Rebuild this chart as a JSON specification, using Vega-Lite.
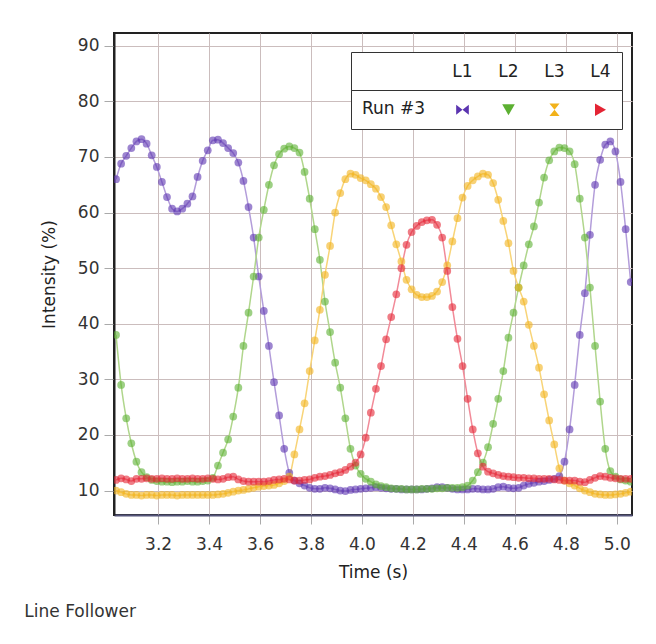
{
"$schema":"https://vega.github.io/schema/vega-lite/v6.json",
"width":518,"height":482,
"padding":{"left":24,"top":33,"right":24,"bottom":20},
"background":"white",
"title":{"text":"Line Follower","orient":"bottom","anchor":"start","frame":"bounds","fontSize":17,"fontWeight":"normal","color":"#333","offset":24,"dx":-16,"font":"DejaVu Sans"},
"config":{"font":"DejaVu Sans","view":{"stroke":"#222","strokeWidth":2},
"axis":{"labelFontSize":17,"titleFontSize":17,"titleFontWeight":"normal","labelColor":"#333","titleColor":"#222","gridColor":"#cbbdbd","gridWidth":1,"tickColor":"#aaa"}},
"data":{"values":[
{"t":3.035,"v":66,"s":"L1"},{"t":3.055,"v":68.8,"s":"L1"},{"t":3.075,"v":70.2,"s":"L1"},{"t":3.095,"v":71.6,"s":"L1"},{"t":3.115,"v":72.8,"s":"L1"},{"t":3.135,"v":73.2,"s":"L1"},{"t":3.155,"v":72.4,"s":"L1"},{"t":3.175,"v":70.3,"s":"L1"},{"t":3.195,"v":68.2,"s":"L1"},{"t":3.215,"v":65.5,"s":"L1"},{"t":3.235,"v":62.8,"s":"L1"},{"t":3.255,"v":60.7,"s":"L1"},{"t":3.275,"v":60.2,"s":"L1"},{"t":3.295,"v":60.7,"s":"L1"},{"t":3.315,"v":61.6,"s":"L1"},{"t":3.335,"v":62.9,"s":"L1"},{"t":3.355,"v":66.4,"s":"L1"},{"t":3.375,"v":69.3,"s":"L1"},{"t":3.395,"v":71.2,"s":"L1"},{"t":3.415,"v":73,"s":"L1"},{"t":3.435,"v":73.1,"s":"L1"},{"t":3.455,"v":72.5,"s":"L1"},{"t":3.475,"v":71.6,"s":"L1"},{"t":3.495,"v":70.7,"s":"L1"},{"t":3.515,"v":69,"s":"L1"},{"t":3.535,"v":65.7,"s":"L1"},{"t":3.555,"v":61,"s":"L1"},{"t":3.575,"v":55.5,"s":"L1"},{"t":3.595,"v":48.5,"s":"L1"},{"t":3.615,"v":42.3,"s":"L1"},{"t":3.635,"v":36,"s":"L1"},{"t":3.655,"v":29.5,"s":"L1"},{"t":3.675,"v":23.5,"s":"L1"},{"t":3.695,"v":17.5,"s":"L1"},{"t":3.715,"v":13.2,"s":"L1"},{"t":3.735,"v":11.8,"s":"L1"},{"t":3.755,"v":11.3,"s":"L1"},{"t":3.775,"v":10.9,"s":"L1"},{"t":3.795,"v":10.5,"s":"L1"},{"t":3.815,"v":10.3,"s":"L1"},{"t":3.835,"v":10.3,"s":"L1"},{"t":3.855,"v":10.5,"s":"L1"},{"t":3.875,"v":10.4,"s":"L1"},{"t":3.895,"v":10.2,"s":"L1"},{"t":3.915,"v":10,"s":"L1"},{"t":3.935,"v":9.9,"s":"L1"},{"t":3.955,"v":10.1,"s":"L1"},{"t":3.975,"v":10.2,"s":"L1"},{"t":3.995,"v":10.3,"s":"L1"},{"t":4.015,"v":10.4,"s":"L1"},{"t":4.035,"v":10.5,"s":"L1"},{"t":4.055,"v":10.6,"s":"L1"},{"t":4.075,"v":10.5,"s":"L1"},{"t":4.095,"v":10.4,"s":"L1"},{"t":4.115,"v":10.3,"s":"L1"},{"t":4.135,"v":10.3,"s":"L1"},{"t":4.155,"v":10.2,"s":"L1"},{"t":4.175,"v":10.2,"s":"L1"},{"t":4.195,"v":10.2,"s":"L1"},{"t":4.215,"v":10.2,"s":"L1"},{"t":4.235,"v":10.2,"s":"L1"},{"t":4.255,"v":10.3,"s":"L1"},{"t":4.275,"v":10.4,"s":"L1"},{"t":4.295,"v":10.6,"s":"L1"},{"t":4.315,"v":10.6,"s":"L1"},{"t":4.335,"v":10.5,"s":"L1"},{"t":4.355,"v":10.3,"s":"L1"},{"t":4.375,"v":10.2,"s":"L1"},{"t":4.395,"v":10.2,"s":"L1"},{"t":4.415,"v":10.2,"s":"L1"},{"t":4.435,"v":10.3,"s":"L1"},{"t":4.455,"v":10.3,"s":"L1"},{"t":4.475,"v":10.2,"s":"L1"},{"t":4.495,"v":10.2,"s":"L1"},{"t":4.515,"v":10.3,"s":"L1"},{"t":4.535,"v":10.6,"s":"L1"},{"t":4.555,"v":10.7,"s":"L1"},{"t":4.575,"v":10.5,"s":"L1"},{"t":4.595,"v":10.4,"s":"L1"},{"t":4.615,"v":10.5,"s":"L1"},{"t":4.635,"v":10.9,"s":"L1"},{"t":4.655,"v":11.2,"s":"L1"},{"t":4.675,"v":11.4,"s":"L1"},{"t":4.695,"v":11.6,"s":"L1"},{"t":4.715,"v":11.7,"s":"L1"},{"t":4.735,"v":11.9,"s":"L1"},{"t":4.755,"v":12.1,"s":"L1"},{"t":4.775,"v":12.6,"s":"L1"},{"t":4.795,"v":15.2,"s":"L1"},{"t":4.815,"v":21,"s":"L1"},{"t":4.835,"v":29,"s":"L1"},{"t":4.855,"v":38,"s":"L1"},{"t":4.875,"v":45.5,"s":"L1"},{"t":4.895,"v":56,"s":"L1"},{"t":4.915,"v":65,"s":"L1"},{"t":4.935,"v":69.5,"s":"L1"},{"t":4.955,"v":72.2,"s":"L1"},{"t":4.975,"v":72.8,"s":"L1"},{"t":4.995,"v":71,"s":"L1"},{"t":5.015,"v":65.5,"s":"L1"},{"t":5.035,"v":57,"s":"L1"},{"t":5.055,"v":47.5,"s":"L1"},
{"t":3.035,"v":38,"s":"L2"},{"t":3.055,"v":29,"s":"L2"},{"t":3.075,"v":23,"s":"L2"},{"t":3.095,"v":18.5,"s":"L2"},{"t":3.115,"v":15.2,"s":"L2"},{"t":3.135,"v":13.3,"s":"L2"},{"t":3.155,"v":12.4,"s":"L2"},{"t":3.175,"v":11.9,"s":"L2"},{"t":3.195,"v":11.7,"s":"L2"},{"t":3.215,"v":11.6,"s":"L2"},{"t":3.235,"v":11.6,"s":"L2"},{"t":3.255,"v":11.5,"s":"L2"},{"t":3.275,"v":11.6,"s":"L2"},{"t":3.295,"v":11.6,"s":"L2"},{"t":3.315,"v":11.7,"s":"L2"},{"t":3.335,"v":11.6,"s":"L2"},{"t":3.355,"v":11.6,"s":"L2"},{"t":3.375,"v":11.7,"s":"L2"},{"t":3.395,"v":11.8,"s":"L2"},{"t":3.415,"v":12.3,"s":"L2"},{"t":3.435,"v":14.5,"s":"L2"},{"t":3.455,"v":16.8,"s":"L2"},{"t":3.475,"v":19.2,"s":"L2"},{"t":3.495,"v":23.3,"s":"L2"},{"t":3.515,"v":28.5,"s":"L2"},{"t":3.535,"v":36,"s":"L2"},{"t":3.555,"v":42,"s":"L2"},{"t":3.575,"v":48.5,"s":"L2"},{"t":3.595,"v":55.5,"s":"L2"},{"t":3.615,"v":60.5,"s":"L2"},{"t":3.635,"v":65,"s":"L2"},{"t":3.655,"v":68.5,"s":"L2"},{"t":3.675,"v":70.5,"s":"L2"},{"t":3.695,"v":71.5,"s":"L2"},{"t":3.715,"v":71.9,"s":"L2"},{"t":3.735,"v":71.6,"s":"L2"},{"t":3.755,"v":70.8,"s":"L2"},{"t":3.775,"v":67.3,"s":"L2"},{"t":3.795,"v":62.5,"s":"L2"},{"t":3.815,"v":57,"s":"L2"},{"t":3.835,"v":51.5,"s":"L2"},{"t":3.855,"v":44,"s":"L2"},{"t":3.875,"v":38.5,"s":"L2"},{"t":3.895,"v":33,"s":"L2"},{"t":3.915,"v":28.5,"s":"L2"},{"t":3.935,"v":23,"s":"L2"},{"t":3.955,"v":17.5,"s":"L2"},{"t":3.975,"v":14.5,"s":"L2"},{"t":3.995,"v":13,"s":"L2"},{"t":4.015,"v":12.1,"s":"L2"},{"t":4.035,"v":11.6,"s":"L2"},{"t":4.055,"v":11.1,"s":"L2"},{"t":4.075,"v":10.8,"s":"L2"},{"t":4.095,"v":10.6,"s":"L2"},{"t":4.115,"v":10.4,"s":"L2"},{"t":4.135,"v":10.3,"s":"L2"},{"t":4.155,"v":10.3,"s":"L2"},{"t":4.175,"v":10.2,"s":"L2"},{"t":4.195,"v":10.2,"s":"L2"},{"t":4.215,"v":10.2,"s":"L2"},{"t":4.235,"v":10.3,"s":"L2"},{"t":4.255,"v":10.3,"s":"L2"},{"t":4.275,"v":10.3,"s":"L2"},{"t":4.295,"v":10.4,"s":"L2"},{"t":4.315,"v":10.4,"s":"L2"},{"t":4.335,"v":10.5,"s":"L2"},{"t":4.355,"v":10.5,"s":"L2"},{"t":4.375,"v":10.5,"s":"L2"},{"t":4.395,"v":10.6,"s":"L2"},{"t":4.415,"v":10.9,"s":"L2"},{"t":4.435,"v":11.8,"s":"L2"},{"t":4.455,"v":13.3,"s":"L2"},{"t":4.475,"v":15,"s":"L2"},{"t":4.495,"v":17.8,"s":"L2"},{"t":4.515,"v":22,"s":"L2"},{"t":4.535,"v":26.5,"s":"L2"},{"t":4.555,"v":31.5,"s":"L2"},{"t":4.575,"v":37.5,"s":"L2"},{"t":4.595,"v":42,"s":"L2"},{"t":4.615,"v":46.5,"s":"L2"},{"t":4.635,"v":50.5,"s":"L2"},{"t":4.655,"v":54.3,"s":"L2"},{"t":4.675,"v":57.5,"s":"L2"},{"t":4.695,"v":61.8,"s":"L2"},{"t":4.715,"v":66.3,"s":"L2"},{"t":4.735,"v":69.4,"s":"L2"},{"t":4.755,"v":71,"s":"L2"},{"t":4.775,"v":71.7,"s":"L2"},{"t":4.795,"v":71.6,"s":"L2"},{"t":4.815,"v":71,"s":"L2"},{"t":4.835,"v":68.7,"s":"L2"},{"t":4.855,"v":62.5,"s":"L2"},{"t":4.875,"v":55.5,"s":"L2"},{"t":4.895,"v":46.5,"s":"L2"},{"t":4.915,"v":36,"s":"L2"},{"t":4.935,"v":26,"s":"L2"},{"t":4.955,"v":17.5,"s":"L2"},{"t":4.975,"v":13.5,"s":"L2"},{"t":4.995,"v":12.5,"s":"L2"},{"t":5.015,"v":12,"s":"L2"},{"t":5.035,"v":11.8,"s":"L2"},{"t":5.055,"v":11.6,"s":"L2"},
{"t":3.035,"v":10,"s":"L3"},{"t":3.055,"v":9.7,"s":"L3"},{"t":3.075,"v":9.4,"s":"L3"},{"t":3.095,"v":9.2,"s":"L3"},{"t":3.115,"v":9.2,"s":"L3"},{"t":3.135,"v":9.1,"s":"L3"},{"t":3.155,"v":9.2,"s":"L3"},{"t":3.175,"v":9.2,"s":"L3"},{"t":3.195,"v":9.1,"s":"L3"},{"t":3.215,"v":9.2,"s":"L3"},{"t":3.235,"v":9.2,"s":"L3"},{"t":3.255,"v":9.2,"s":"L3"},{"t":3.275,"v":9.1,"s":"L3"},{"t":3.295,"v":9.2,"s":"L3"},{"t":3.315,"v":9.2,"s":"L3"},{"t":3.335,"v":9.2,"s":"L3"},{"t":3.355,"v":9.2,"s":"L3"},{"t":3.375,"v":9.2,"s":"L3"},{"t":3.395,"v":9.2,"s":"L3"},{"t":3.415,"v":9.2,"s":"L3"},{"t":3.435,"v":9.3,"s":"L3"},{"t":3.455,"v":9.4,"s":"L3"},{"t":3.475,"v":9.6,"s":"L3"},{"t":3.495,"v":9.8,"s":"L3"},{"t":3.515,"v":10,"s":"L3"},{"t":3.535,"v":10.1,"s":"L3"},{"t":3.555,"v":10.3,"s":"L3"},{"t":3.575,"v":10.5,"s":"L3"},{"t":3.595,"v":10.7,"s":"L3"},{"t":3.615,"v":10.8,"s":"L3"},{"t":3.635,"v":10.9,"s":"L3"},{"t":3.655,"v":11,"s":"L3"},{"t":3.675,"v":11.3,"s":"L3"},{"t":3.695,"v":11.7,"s":"L3"},{"t":3.715,"v":12.5,"s":"L3"},{"t":3.735,"v":16.5,"s":"L3"},{"t":3.755,"v":21,"s":"L3"},{"t":3.775,"v":25.7,"s":"L3"},{"t":3.795,"v":31.5,"s":"L3"},{"t":3.815,"v":37,"s":"L3"},{"t":3.835,"v":42.5,"s":"L3"},{"t":3.855,"v":48.8,"s":"L3"},{"t":3.875,"v":54,"s":"L3"},{"t":3.895,"v":60,"s":"L3"},{"t":3.915,"v":63.5,"s":"L3"},{"t":3.935,"v":66,"s":"L3"},{"t":3.955,"v":67,"s":"L3"},{"t":3.975,"v":66.8,"s":"L3"},{"t":3.995,"v":66.2,"s":"L3"},{"t":4.015,"v":65.8,"s":"L3"},{"t":4.035,"v":65.1,"s":"L3"},{"t":4.055,"v":64.3,"s":"L3"},{"t":4.075,"v":62.8,"s":"L3"},{"t":4.095,"v":61,"s":"L3"},{"t":4.115,"v":57.7,"s":"L3"},{"t":4.135,"v":54.3,"s":"L3"},{"t":4.155,"v":51.2,"s":"L3"},{"t":4.175,"v":47.9,"s":"L3"},{"t":4.195,"v":46.2,"s":"L3"},{"t":4.215,"v":45.2,"s":"L3"},{"t":4.235,"v":44.8,"s":"L3"},{"t":4.255,"v":44.8,"s":"L3"},{"t":4.275,"v":45,"s":"L3"},{"t":4.295,"v":45.8,"s":"L3"},{"t":4.315,"v":47.5,"s":"L3"},{"t":4.335,"v":50.5,"s":"L3"},{"t":4.355,"v":54.8,"s":"L3"},{"t":4.375,"v":59,"s":"L3"},{"t":4.395,"v":62.7,"s":"L3"},{"t":4.415,"v":64.8,"s":"L3"},{"t":4.435,"v":65.8,"s":"L3"},{"t":4.455,"v":66.5,"s":"L3"},{"t":4.475,"v":67,"s":"L3"},{"t":4.495,"v":66.8,"s":"L3"},{"t":4.515,"v":65.3,"s":"L3"},{"t":4.535,"v":62.3,"s":"L3"},{"t":4.555,"v":58.5,"s":"L3"},{"t":4.575,"v":54.5,"s":"L3"},{"t":4.595,"v":49.5,"s":"L3"},{"t":4.615,"v":46.5,"s":"L3"},{"t":4.635,"v":44,"s":"L3"},{"t":4.655,"v":39.8,"s":"L3"},{"t":4.675,"v":36,"s":"L3"},{"t":4.695,"v":32.1,"s":"L3"},{"t":4.715,"v":27.3,"s":"L3"},{"t":4.735,"v":22.6,"s":"L3"},{"t":4.755,"v":18.3,"s":"L3"},{"t":4.775,"v":14,"s":"L3"},{"t":4.795,"v":11.8,"s":"L3"},{"t":4.815,"v":11.3,"s":"L3"},{"t":4.835,"v":10.9,"s":"L3"},{"t":4.855,"v":10.4,"s":"L3"},{"t":4.875,"v":10,"s":"L3"},{"t":4.895,"v":9.7,"s":"L3"},{"t":4.915,"v":9.4,"s":"L3"},{"t":4.935,"v":9.3,"s":"L3"},{"t":4.955,"v":9.2,"s":"L3"},{"t":4.975,"v":9.2,"s":"L3"},{"t":4.995,"v":9.3,"s":"L3"},{"t":5.015,"v":9.4,"s":"L3"},{"t":5.035,"v":9.6,"s":"L3"},{"t":5.055,"v":9.8,"s":"L3"},
{"t":3.035,"v":11.9,"s":"L4"},{"t":3.055,"v":12.2,"s":"L4"},{"t":3.075,"v":12,"s":"L4"},{"t":3.095,"v":11.7,"s":"L4"},{"t":3.115,"v":12.1,"s":"L4"},{"t":3.135,"v":12.1,"s":"L4"},{"t":3.155,"v":12.2,"s":"L4"},{"t":3.175,"v":12.1,"s":"L4"},{"t":3.195,"v":12.1,"s":"L4"},{"t":3.215,"v":12.2,"s":"L4"},{"t":3.235,"v":12.1,"s":"L4"},{"t":3.255,"v":12.1,"s":"L4"},{"t":3.275,"v":12.2,"s":"L4"},{"t":3.295,"v":12.1,"s":"L4"},{"t":3.315,"v":12.1,"s":"L4"},{"t":3.335,"v":12.2,"s":"L4"},{"t":3.355,"v":12.1,"s":"L4"},{"t":3.375,"v":12.1,"s":"L4"},{"t":3.395,"v":12.2,"s":"L4"},{"t":3.415,"v":12.1,"s":"L4"},{"t":3.435,"v":12,"s":"L4"},{"t":3.455,"v":12.1,"s":"L4"},{"t":3.475,"v":12.4,"s":"L4"},{"t":3.495,"v":12.5,"s":"L4"},{"t":3.515,"v":12,"s":"L4"},{"t":3.535,"v":11.7,"s":"L4"},{"t":3.555,"v":11.6,"s":"L4"},{"t":3.575,"v":11.6,"s":"L4"},{"t":3.595,"v":11.6,"s":"L4"},{"t":3.615,"v":11.6,"s":"L4"},{"t":3.635,"v":11.7,"s":"L4"},{"t":3.655,"v":11.9,"s":"L4"},{"t":3.675,"v":12,"s":"L4"},{"t":3.695,"v":12.1,"s":"L4"},{"t":3.715,"v":12,"s":"L4"},{"t":3.735,"v":11.8,"s":"L4"},{"t":3.755,"v":11.8,"s":"L4"},{"t":3.775,"v":11.9,"s":"L4"},{"t":3.795,"v":12,"s":"L4"},{"t":3.815,"v":12.3,"s":"L4"},{"t":3.835,"v":12.5,"s":"L4"},{"t":3.855,"v":12.6,"s":"L4"},{"t":3.875,"v":12.8,"s":"L4"},{"t":3.895,"v":13.1,"s":"L4"},{"t":3.915,"v":13.3,"s":"L4"},{"t":3.935,"v":13.7,"s":"L4"},{"t":3.955,"v":14.3,"s":"L4"},{"t":3.975,"v":15,"s":"L4"},{"t":3.995,"v":16.5,"s":"L4"},{"t":4.015,"v":19.5,"s":"L4"},{"t":4.035,"v":24,"s":"L4"},{"t":4.055,"v":28.3,"s":"L4"},{"t":4.075,"v":32.4,"s":"L4"},{"t":4.095,"v":37.2,"s":"L4"},{"t":4.115,"v":41.2,"s":"L4"},{"t":4.135,"v":45.3,"s":"L4"},{"t":4.155,"v":50,"s":"L4"},{"t":4.175,"v":54.2,"s":"L4"},{"t":4.195,"v":56.5,"s":"L4"},{"t":4.215,"v":57.6,"s":"L4"},{"t":4.235,"v":58.3,"s":"L4"},{"t":4.255,"v":58.6,"s":"L4"},{"t":4.275,"v":58.7,"s":"L4"},{"t":4.295,"v":57.8,"s":"L4"},{"t":4.315,"v":55.5,"s":"L4"},{"t":4.335,"v":49.5,"s":"L4"},{"t":4.355,"v":43,"s":"L4"},{"t":4.375,"v":37.3,"s":"L4"},{"t":4.395,"v":32.4,"s":"L4"},{"t":4.415,"v":26.5,"s":"L4"},{"t":4.435,"v":21,"s":"L4"},{"t":4.455,"v":16.7,"s":"L4"},{"t":4.475,"v":14.3,"s":"L4"},{"t":4.495,"v":13.4,"s":"L4"},{"t":4.515,"v":13.1,"s":"L4"},{"t":4.535,"v":12.8,"s":"L4"},{"t":4.555,"v":12.6,"s":"L4"},{"t":4.575,"v":12.5,"s":"L4"},{"t":4.595,"v":12.4,"s":"L4"},{"t":4.615,"v":12.3,"s":"L4"},{"t":4.635,"v":12.3,"s":"L4"},{"t":4.655,"v":12.2,"s":"L4"},{"t":4.675,"v":12.2,"s":"L4"},{"t":4.695,"v":12.1,"s":"L4"},{"t":4.715,"v":12.1,"s":"L4"},{"t":4.735,"v":12.1,"s":"L4"},{"t":4.755,"v":12,"s":"L4"},{"t":4.775,"v":11.9,"s":"L4"},{"t":4.795,"v":11.8,"s":"L4"},{"t":4.815,"v":11.8,"s":"L4"},{"t":4.835,"v":11.8,"s":"L4"},{"t":4.855,"v":11.6,"s":"L4"},{"t":4.875,"v":11.5,"s":"L4"},{"t":4.895,"v":11.9,"s":"L4"},{"t":4.915,"v":12.3,"s":"L4"},{"t":4.935,"v":12.6,"s":"L4"},{"t":4.955,"v":12.5,"s":"L4"},{"t":4.975,"v":12.3,"s":"L4"},{"t":4.995,"v":12.2,"s":"L4"},{"t":5.015,"v":12.1,"s":"L4"},{"t":5.035,"v":12.1,"s":"L4"},{"t":5.055,"v":12.1,"s":"L4"}
]},
"encoding":{
"x":{"field":"t","type":"quantitative","title":"Time (s)","scale":{"domain":[3.027,5.06],"nice":false,"zero":false},"axis":{"values":[3.2,3.4,3.6,3.8,4.0,4.2,4.4,4.6,4.8,5.0],"format":".1f","tickSize":9,"labelPadding":12,"titlePadding":12,"domainColor":"#55557a","domainWidth":2}},
"y":{"field":"v","type":"quantitative","title":"Intensity (%)","scale":{"domain":[5.6,92.3],"nice":false,"zero":false},"axis":{"values":[10,20,30,40,50,60,70,80,90],"tickSize":10,"labelPadding":5,"titlePadding":19,"domainColor":"#222","domainWidth":2}}
},
"layer":[
{"mark":{"type":"line","strokeWidth":1.5,"interpolate":"monotone","clip":true},
 "encoding":{"color":{"field":"s","type":"nominal","scale":{"range":["#b39dda","#b0d68c","#f8d478","#f28a98"]},
  "legend":{"orient":"none","legendX":237,"legendY":19,"direction":"horizontal","columns":4,"gridAlign":"all","symbolType":"circle","symbolSize":160,"symbolOpacity":0,"labelFontSize":17,"labelColor":"#222","labelAlign":"center","labelOffset":-8.5,"columnPadding":25,"padding":11,"strokeColor":"#333","fillColor":"white","title":"Run #3","titleOrient":"left","titleFontSize":17,"titleFontWeight":"normal","titleColor":"#222","titleOpacity":0,"titlePadding":28}}}},
{"mark":{"type":"point","filled":true,"shape":"circle","size":60,"opacity":0.6,"clip":true},
 "encoding":{"fill":{"field":"s","type":"nominal","scale":{"domain":["L1","L2","L3","L4"],"range":["#5b34b0","#5cb032","#f2b21a","#e42434"]},
  "legend":{"orient":"none","legendX":237,"legendY":57,"direction":"horizontal","columns":4,"gridAlign":"all","symbolSize":160,"symbolOpacity":1,"symbolStrokeWidth":0,"labelFontSize":17,"labelColor":"#222","labelAlign":"center","labelOffset":-8.5,"labelOpacity":0,"columnPadding":25,"padding":11,"strokeColor":"#333","fillColor":"white","title":"Run #3","titleOrient":"left","titleFontSize":17,"titleFontWeight":"normal","titleColor":"#222","titlePadding":28}}}},
{"mark":{"type":"point","filled":true,"size":60,"opacity":0,"clip":true},
 "encoding":{"fill":{"field":"s","type":"nominal","scale":{"domain":["L1","L2","L3","L4"],"range":["#5b34b0","#5cb032","#f2b21a","#e42434"]},
  "legend":{"orient":"none","legendX":237,"legendY":57,"direction":"horizontal","columns":4,"gridAlign":"all","symbolSize":160,"symbolOpacity":1,"symbolStrokeWidth":0,"labelFontSize":17,"labelColor":"#222","labelAlign":"center","labelOffset":-8.5,"labelOpacity":0,"columnPadding":25,"padding":11,"strokeColor":"#333","fillColor":"white","title":"Run #3","titleOrient":"left","titleFontSize":17,"titleFontWeight":"normal","titleColor":"#222","titlePadding":28}},
 "shape":{"field":"s","type":"nominal","scale":{"domain":["L1","L2","L3","L4"],"range":["M-1,-0.8L0,0L-1,0.8Z M1,-0.8L0,0L1,0.8Z","triangle-down","M-0.8,-1L0.8,-1L0,0Z M-0.8,1L0.8,1L0,0Z","triangle-right"]},
  "legend":{"orient":"none","legendX":237,"legendY":57,"direction":"horizontal","columns":4,"gridAlign":"all","symbolSize":160,"symbolOpacity":1,"symbolStrokeWidth":0,"labelFontSize":17,"labelColor":"#222","labelAlign":"center","labelOffset":-8.5,"labelOpacity":0,"columnPadding":25,"padding":11,"strokeColor":"#333","fillColor":"white","title":"Run #3","titleOrient":"left","titleFontSize":17,"titleFontWeight":"normal","titleColor":"#222","titlePadding":28}}}}
]
}
